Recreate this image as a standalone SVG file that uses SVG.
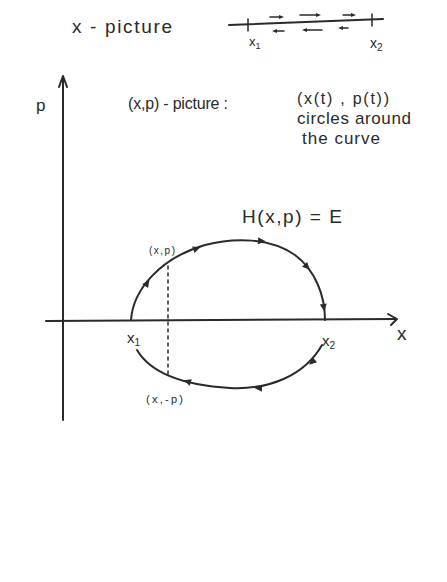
<svg xmlns="http://www.w3.org/2000/svg" width="447" height="582" viewBox="0 0 447 582">
<style>
.ln{fill:none;stroke:#2a2a2a;stroke-width:2;stroke-linecap:round;stroke-linejoin:round}
.thin{fill:none;stroke:#2a2a2a;stroke-width:1.5;stroke-linecap:round}
.t{font-family:"Liberation Sans","DejaVu Sans",sans-serif;fill:#2a2a2a}
</style>
<defs>
<path id="ah" d="M-5,-3.5 L2.5,0 L-5,3.5 Z" fill="#2a2a2a"/>
<path id="sa" d="M-4,-2 L1,0 L-4,2 Z" fill="#2a2a2a"/>
</defs>
<rect width="447" height="582" fill="#fff"/>

<g id="x-picture">
<text class="t" x="72" y="33" font-size="19" textLength="100">x - picture</text>
<path class="ln" d="M229,25 L383,19"/>
<path class="thin" d="M248,19 L248,31 M372,14 L372,26"/>
<text class="t" x="249" y="46" font-size="13">x<tspan font-size="9" dy="3">1</tspan></text>
<text class="t" x="370" y="48" font-size="14">x<tspan font-size="10" dy="3">2</tspan></text>
<g id="x-arrows-right">
<path class="thin" d="M270,17 L281,17 M300,15 L318,15 M343,15 L353,15"/>
<use href="#sa" x="283" y="17"/><use href="#sa" x="320" y="15"/><use href="#sa" x="355" y="15"/>
</g>
<g id="x-arrows-left">
<path class="thin" d="M275,31 L284,31 M305,30 L322,30 M341,28 L348,28"/>
<use href="#sa" transform="translate(273,31) rotate(180)"/><use href="#sa" transform="translate(303,30) rotate(180)"/><use href="#sa" transform="translate(339,28) rotate(180)"/>
</g>
</g>

<g id="axes">
<path class="ln" d="M63,420 L63,77"/>
<path class="ln" d="M59,87 L63,76 L67,87"/>
<path class="ln" d="M46,321 L396,319"/>
<path class="ln" d="M388,314 L397,319 L391,325"/>
<text class="t" x="36" y="111" font-size="17">p</text>
<text class="t" x="397" y="340" font-size="19">x</text>
</g>

<g id="labels">
<text class="t" x="128" y="109" font-size="16" textLength="100">(x,p) - picture :</text>
<text class="t" x="297" y="104" font-size="16" textLength="92">(x(t) , p(t))</text>
<text class="t" x="297" y="124" font-size="17" textLength="114">circles around</text>
<text class="t" x="302" y="144" font-size="17" textLength="78">the curve</text>
<text class="t" x="242" y="223" font-size="19" textLength="100">H(x,p)  = E</text>
</g>

<g id="curve">
<path class="ln" d="M131,320 C133,290 160,258 205,245 C235,237 270,238 295,255 C315,270 325,295 325,320"/>
<path class="ln" d="M137,350 C150,372 180,385 230,388 C270,390 305,375 322,345"/>
<use href="#ah" transform="translate(148,282) rotate(-55)"/>
<use href="#ah" transform="translate(198,248) rotate(-20)"/>
<use href="#ah" transform="translate(263,241) rotate(4)"/>
<use href="#ah" transform="translate(308,268) rotate(48)"/>
<use href="#ah" transform="translate(324,309) rotate(82)"/>
<use href="#ah" transform="translate(311,363) rotate(138)"/>
<use href="#ah" transform="translate(257,388) rotate(182)"/>
<use href="#ah" transform="translate(186,381) rotate(198)"/>
</g>

<g id="point-labels">
<path class="thin" d="M168,266 L168,376" stroke-dasharray="3,4"/>
<text class="t" x="149" y="254" font-size="10" textLength="26">(x,p)</text>
<text class="t" x="146" y="403" font-size="11" textLength="37">(x,-p)</text>
<text class="t" x="127" y="343" font-size="15">x<tspan font-size="10" dy="3">1</tspan></text>
<text class="t" x="322" y="346" font-size="15">x<tspan font-size="10" dy="3">2</tspan></text>
</g>
</svg>
